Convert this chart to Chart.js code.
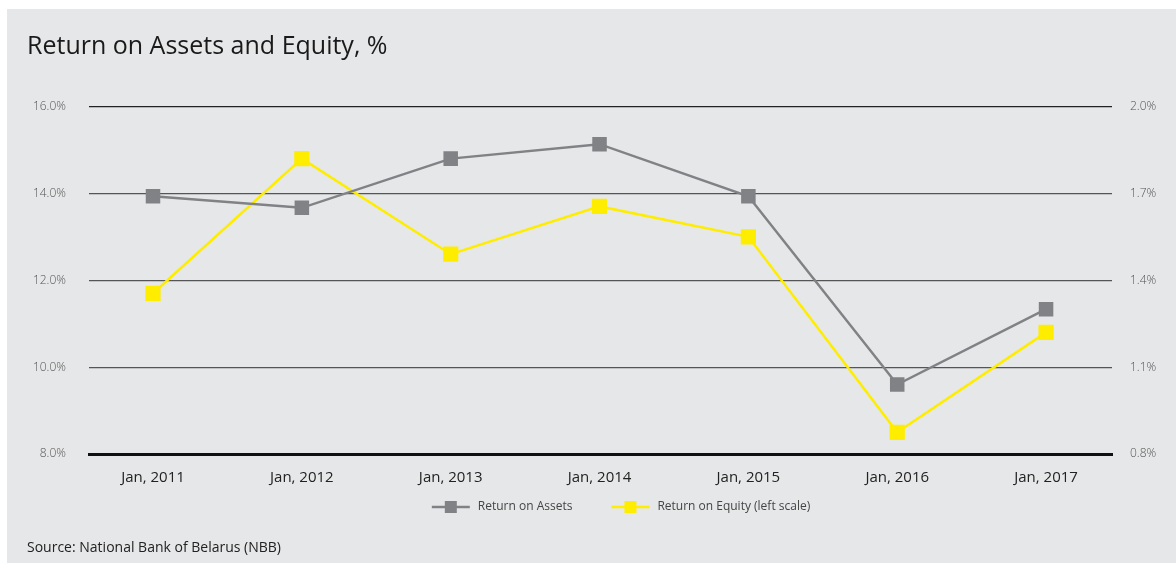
<!DOCTYPE html>
<html>
<head>
<meta charset="utf-8">
<script src="https://cdn.jsdelivr.net/npm/chart.js@4.4.0/dist/chart.umd.min.js"></script>
<style>
  html, body { margin:0; padding:0; background:#fff; overflow:hidden; }
  #box { position:absolute; left:7px; top:9px; width:1169px; height:554px; background:#e6e7e8; overflow:hidden; }
  #title { position:absolute; left:20px; top:18px; font-family:"Open Sans", sans-serif; font-size:25px; color:#1a1a1a; }
  #source { position:absolute; left:20px; top:528px; font-family:"Open Sans", sans-serif; font-size:14px; color:#222; }
  canvas { position:absolute; left:0; top:0; }
</style>
</head>
<body>
<div id="box">
  <canvas id="c" width="1200" height="554"></canvas>
  <div id="title">Return on Assets and Equity, %</div>
  <div id="source">Source: National Bank of Belarus (NBB)</div>
</div>
<script>
var years = ["Jan, 2011","Jan, 2012","Jan, 2013","Jan, 2014","Jan, 2015","Jan, 2016","Jan, 2017"];
var roa = [1.69, 1.65, 1.82, 1.87, 1.69, 1.04, 1.30];
var roe = [11.7, 14.8, 12.6, 13.7, 13.0, 8.5, 10.8];
var leftTicks = [8, 10, 12, 14, 16];
var rightTicks = [0.8, 1.1, 1.4, 1.7, 2.0];

var grey = "#808285";
var yellow = "#ffed00";

function pts(arr){
  return arr.map(function(v, i){ return { x: i, y: v }; });
}

// legend marker: line with a square, pushed to the right of its box
function marker(col){
  var cv = document.createElement("canvas");
  cv.width = 68; cv.height = 14;
  var g = cv.getContext("2d");
  g.strokeStyle = col; g.lineWidth = 2.5;
  g.beginPath(); g.moveTo(28,7); g.lineTo(66,7); g.stroke();
  g.fillStyle = col; g.fillRect(41,1,12,12);
  return cv;
}
var marks = [marker(grey), marker(yellow)];

new Chart(document.getElementById("c"), {
  type: 'line',
  data: {
    datasets: [{
      label: "Return on Assets",
      data: pts(roa),
      yAxisID: 'yr',
      borderColor: grey,
      backgroundColor: grey,
      borderWidth: 2.5,
      pointStyle: 'rect',
      pointRadius: 8.5,
      pointHoverRadius: 8.5,
      tension: 0,
      fill: false
    }, {
      label: "Return on Equity (left scale)",
      data: pts(roe),
      yAxisID: 'yl',
      borderColor: yellow,
      backgroundColor: yellow,
      borderWidth: 2.5,
      pointStyle: 'rect',
      pointRadius: 9,
      pointHoverRadius: 9,
      tension: 0,
      fill: false
    }]
  },
  options: {
    responsive: false,
    animation: false,
    layout: { padding: { top: 97.5, bottom: 40, left: 0, right: 0 } },
    plugins: {
      tooltip: { enabled: false },
      legend: {
        position: 'bottom',
        labels: {
          usePointStyle: true,
          pointStyleWidth: 68,
          padding: 11,
          color: '#444',
          font: { family: 'Open Sans', size: 12 },
          generateLabels: function(chart){
            return chart.data.datasets.map(function(ds, i){
              return { text: ds.label, pointStyle: marks[i], datasetIndex: i,
                       fillStyle: ds.borderColor, strokeStyle: ds.borderColor, lineWidth: 0, fontColor: '#444' };
            });
          }
        }
      }
    },
    scales: {
      x: {
        type: 'linear',
        min: -0.43, max: 6.443,
        afterBuildTicks: function(s){ s.ticks = years.map(function(y, i){ return {value:i}; }); },
        grid: { display: false, drawTicks: false },
        border: { display: true, color: '#111', width: 3 },
        ticks: { color: '#222', padding: 15, autoSkip: false, maxRotation: 0, font: { family: 'Open Sans', size: 15 },
                 callback: function(v){ return years[v]; } },
        afterFit: function(s){ s.height = 36; }
      },
      yl: {
        position: 'left',
        min: 8, max: 16,
        afterBuildTicks: function(s){ s.ticks = leftTicks.map(function(v){ return {value:v}; }); },
        grid: {
          drawTicks: false,
          color: function(ctx){ return ctx.tick && ctx.tick.value === 16 ? '#222' : (ctx.tick && ctx.tick.value === 8 ? 'rgba(0,0,0,0)' : '#555'); },
          lineWidth: 1.2
        },
        border: { display: false },
        ticks: { padding: 23, color: '#555', font: { family: 'Open Sans', size: 12, weight: '300' },
                 callback: function(v){ return v.toFixed(1) + '%'; } },
        afterFit: function(s){ s.width = 82; }
      },
      yr: {
        position: 'right',
        min: 0.8, max: 2.0,
        afterBuildTicks: function(s){ s.ticks = rightTicks.map(function(v){ return {value:v}; }); },
        grid: { display: false, drawTicks: false },
        border: { display: false },
        ticks: { padding: 18, color: '#555', font: { family: 'Open Sans', size: 12, weight: '300' },
                 callback: function(v){ return v.toFixed(1) + '%'; } },
        afterFit: function(s){ s.width = 95; }
      }
    }
  }
});
</script>
</body>
</html>
